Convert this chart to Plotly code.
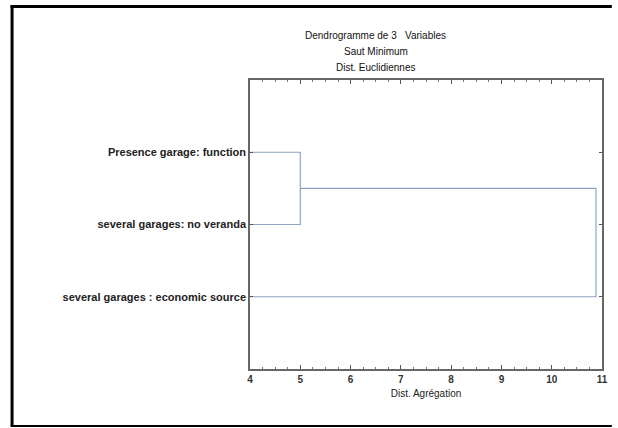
import plotly.graph_objects as go

# ---- data ----
leaf_labels = ["Presence garage: function",
               "several garages: no veranda",
               "several garages : economic source"]
leaf_positions = [1, 2, 3]
merge_heights = [5.0, 10.88]          # linkage distances
x_ticks = [4, 5, 6, 7, 8, 9, 10, 11]
title_lines = ["Dendrogramme de 3   Variables", "Saut Minimum", "Dist. Euclidiennes"]
x_title = "Dist. Agrégation"

W, H = 618, 428
ML, MR, MT, MB = 250, 10, 80, 59
PW, PH = W - ML - MR, H - MT - MB
XMIN, XMAX = 4, 11
LINE = "#8fa3c6"
FONT = "Liberation Sans, Arial"

fig = go.Figure()

y1, y2, y3 = leaf_positions
h1, h2 = merge_heights
mid12 = (y1 + y2) / 2
fig.add_trace(go.Scatter(x=[XMIN, h1, h1, XMIN], y=[y1, y1, y2, y2], mode="lines",
                         line=dict(color=LINE, width=1.2), hoverinfo="skip", showlegend=False))
fig.add_trace(go.Scatter(x=[h1, h2, h2, XMIN], y=[mid12, mid12, y3, y3], mode="lines",
                         line=dict(color=LINE, width=1.2), hoverinfo="skip", showlegend=False))

fig.update_xaxes(range=[XMIN, XMAX], tickvals=x_ticks, ticks="inside", ticklen=4,
                 tickcolor="#555", showline=True, linecolor="#666", linewidth=1.5,
                 mirror="ticks", showgrid=False, zeroline=False,
                 minor=dict(dtick=0.25, ticks="inside", ticklen=2, tickcolor="#777", showgrid=False),
                 tickfont=dict(family=FONT, size=10, color="#333", weight="bold"),
                 title=dict(text=x_title, standoff=6,
                            font=dict(family=FONT, size=10, color="#222")))
fig.update_yaxes(range=[4, 0], tickvals=leaf_positions, ticktext=leaf_labels,
                 ticks="inside", ticklen=3, tickcolor="#555", showline=True, linecolor="#666",
                 linewidth=1.5, mirror="ticks", showgrid=False, zeroline=False,
                 tickfont=dict(family=FONT, size=11, color="#222", weight="bold"))

def px_x(px):
    return (px - ML) / PW

def px_y(py):
    return (H - MB - py) / PH

annotations = []
for t, py in zip(title_lines, [35, 51, 67]):
    annotations.append(dict(text=t, x=px_x(378), y=px_y(py), xref="paper", yref="paper",
                            showarrow=False, xanchor="center", yanchor="middle",
                            font=dict(family=FONT, size=10, color="#111")))

shapes = [
    dict(type="line", xref="paper", yref="paper", x0=px_x(8), x1=px_x(8), y0=px_y(5), y1=px_y(426),
         line=dict(color="black", width=3)),
    dict(type="line", xref="paper", yref="paper", x0=px_x(6.5), x1=px_x(618), y0=px_y(6.5), y1=px_y(6.5),
         line=dict(color="black", width=3)),
    dict(type="line", xref="paper", yref="paper", x0=px_x(6.5), x1=px_x(618), y0=px_y(426), y1=px_y(426),
         line=dict(color="black", width=2)),
]

fig.update_layout(width=W, height=H, margin=dict(l=ML, r=MR, t=MT, b=MB, pad=0),
                  paper_bgcolor="white", plot_bgcolor="white",
                  annotations=annotations, shapes=shapes)

fig.write_html("out.html", config={"displayModeBar": False},
               post_script="document.body.style.margin='0';document.body.style.overflow='hidden';")
